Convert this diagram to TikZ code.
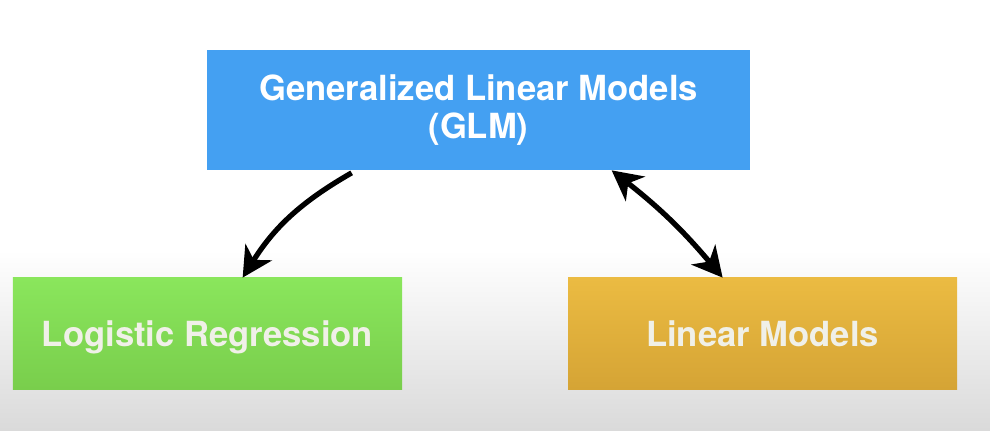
\documentclass[tikz,border=0pt]{standalone}
\usepackage{fontspec}
\setmainfont{TeX Gyre Heros}
\usepackage{tikz}
\usetikzlibrary{arrows.meta,shapes}
\definecolor{glmblue}{HTML}{44A0F2}
\definecolor{greentop}{HTML}{8AE65C}
\definecolor{greenbot}{HTML}{79CE4C}
\definecolor{goldtop}{HTML}{EBBB42}
\definecolor{goldbot}{HTML}{D5A435}
\definecolor{paletext}{HTML}{F0F0E8}
\definecolor{bggray}{HTML}{DADADA}
\tikzstyle{box} = [text centered, inner sep=0pt, font=\fontsize{19.7}{21.8}\selectfont\bfseries]
\tikzstyle{lowbox} = [box, text=paletext, text depth=0pt, minimum width=7.78cm, minimum height=2.22cm]
\tikzstyle{link} = [line width=3pt, black]

\begin{document}
\begin{tikzpicture}
\useasboundingbox (0,0) rectangle (19.8,8.6);
\fill[white] (0,0) rectangle (19.8,8.6);
\shade[top color=white, bottom color=bggray] (0,0) rectangle (19.8,3.6);
\node[box, fill=glmblue, text=white, minimum width=10.86cm, minimum height=2.4cm, align=center] (glm) at (9.57,6.4) {Generalized Linear Models\\(GLM)};
\node[lowbox, top color=greentop, bottom color=greenbot] (logit) at (4.15,1.93) {Logistic Regression};
\node[lowbox, top color=goldtop, bottom color=goldbot] (linmod) at (15.25,1.93) {Linear Models};
\draw[link, -{Stealth[length=0.6cm,width=0.62cm,inset=0.18cm]}] ([xshift=2.9cm,yshift=-0.05cm]glm.south west) to[bend right=14] ([xshift=4.6cm]logit.north west);
\draw[link, {Stealth[length=0.6cm,width=0.62cm,inset=0.18cm]}-{Stealth[length=0.6cm,width=0.62cm,inset=0.18cm]}] ([xshift=8.1cm]glm.south west) to[bend left=6] ([xshift=3.1cm]linmod.north west);
\end{tikzpicture}
\end{document}
